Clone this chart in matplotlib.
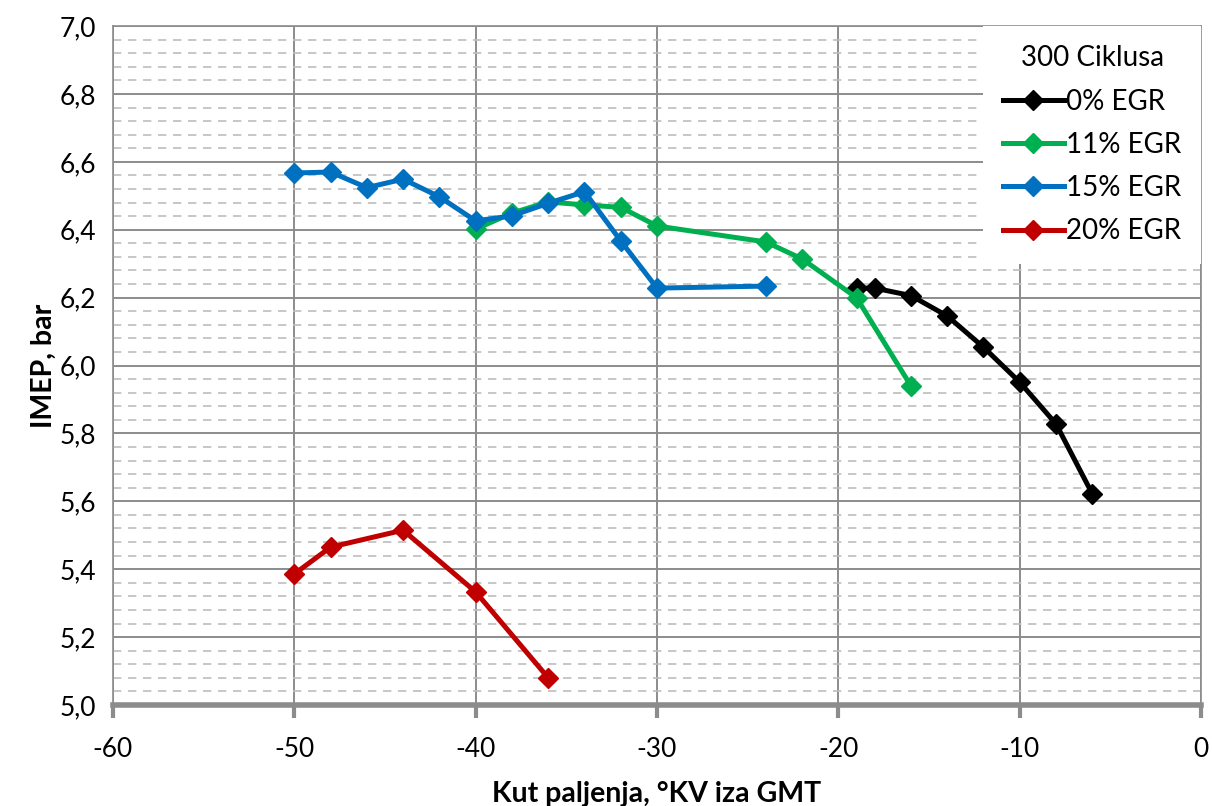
import numpy as np
import matplotlib.pyplot as plt
from matplotlib.ticker import MultipleLocator, FuncFormatter

plt.rcParams['font.family'] = ['Lato', 'DejaVu Sans']

# ocitano s grafa
kut_0 = [-19, -18, -16, -14, -12, -10, -8, -6]
imep_0 = [6.228, 6.228, 6.206, 6.146, 6.054, 5.951, 5.828, 5.622]

kut_11 = [-40, -38, -36, -34, -32, -30, -24, -22, -19, -16]
imep_11 = [6.402, 6.449, 6.482, 6.473, 6.466, 6.411, 6.364, 6.314, 6.200, 5.940]

kut_15 = [-50, -48, -46, -44, -42, -40, -38, -36, -34, -32, -30, -24]
imep_15 = [6.567, 6.570, 6.524, 6.549, 6.497, 6.426, 6.441, 6.478, 6.512, 6.367, 6.228, 6.234]

kut_20 = [-50, -48, -44, -40, -36]
imep_20 = [5.386, 5.465, 5.515, 5.333, 5.080]

serije = [
    (kut_0, imep_0, '0% EGR', '#000000'),
    (kut_11, imep_11, '11% EGR', '#00B050'),
    (kut_15, imep_15, '15% EGR', '#0070C0'),
    (kut_20, imep_20, '20% EGR', '#C00000'),
]

fig = plt.figure(figsize=(12.12, 8.06), dpi=100)
ax = fig.add_axes([0.0932, 0.1253, 0.8978, 0.8424])

for x, y, naziv, boja in serije:
    ax.plot(x, y, color=boja, lw=3.6, marker='D', ms=10, mec=boja, mfc=boja, label=naziv, zorder=3)

ax.set_xlim(-60, 0)
ax.set_ylim(5.0, 7.0)
ax.xaxis.set_major_locator(MultipleLocator(10))
ax.yaxis.set_major_locator(MultipleLocator(0.2))
ax.yaxis.set_minor_locator(MultipleLocator(0.04))
ax.yaxis.set_major_formatter(FuncFormatter(lambda v, p: f"{v:.1f}".replace('.', ',')))
ax.xaxis.set_major_formatter(FuncFormatter(lambda v, p: f"{v:.0f}".replace('\u2212', '-')))

ax.grid(which='major', axis='both', color='#8c8c8c', lw=1.4)
ax.grid(which='minor', axis='y', color='#bdbdbd', lw=1.2, ls=(0, (5, 4)))
ax.set_axisbelow(True)

for s in ['top', 'right', 'left']:
    ax.spines[s].set_color('#8c8c8c')
    ax.spines[s].set_linewidth(1.2)
ax.spines['bottom'].set_color('#8c8c8c')
ax.spines['bottom'].set_linewidth(4)

ax.tick_params(axis='x', which='major', length=9, width=3, color='#8c8c8c', labelsize=19, pad=14)
ax.tick_params(axis='y', which='both', length=0, labelsize=19, pad=12)

ax.set_xlabel('Kut paljenja, °KV iza GMT', fontsize=20.5, fontweight='bold', labelpad=14)
ax.set_ylabel('IMEP, bar', fontsize=20.5, fontweight='bold', labelpad=2)

leg = ax.legend(title='300 Ciklusa', loc='upper right', fontsize=20, title_fontsize=20,
                frameon=True, fancybox=False, edgecolor='none', facecolor='white', framealpha=1,
                handlelength=2.2, handletextpad=0.1, labelspacing=0.62,
                borderaxespad=0.0, borderpad=0.7)

fig.savefig('out.png', dpi=100)
